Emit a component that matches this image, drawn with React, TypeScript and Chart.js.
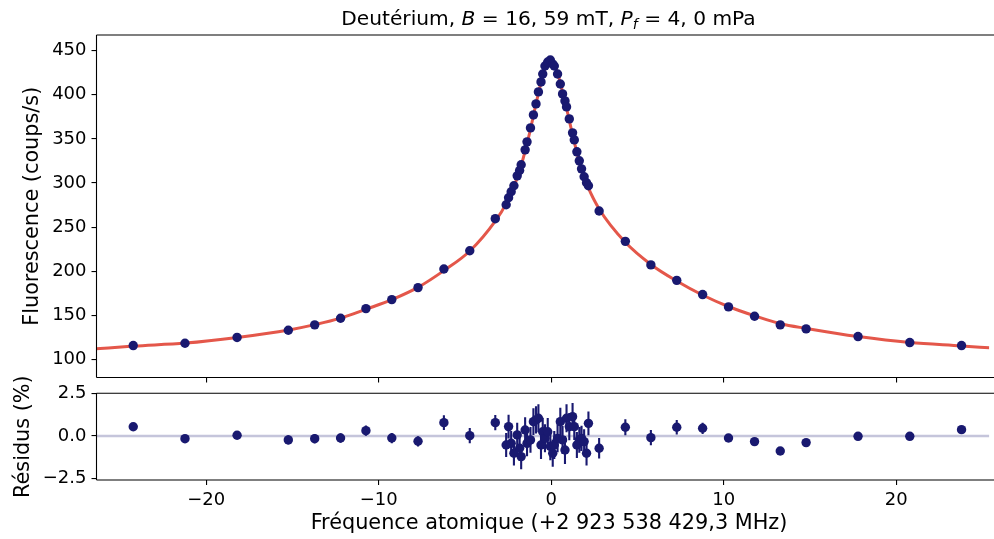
import React, { useEffect, useRef } from "react";
import { Chart, registerables } from "chart.js";

Chart.register(...registerables);

// ---------- data ----------
const freq = [
  -24.23, -21.23, -18.21, -15.24, -13.71, -12.21, -10.74, -9.24, -7.72, -6.22, -4.72,
  -3.24,
  -2.61, -2.47, -2.32, -2.16, -1.97, -1.83, -1.74, -1.51, -1.4, -1.2,
  -1.03, -0.88, -0.74, -0.59, -0.49, -0.36, -0.2, -0.05, 0.09, 0.18,
  0.37, 0.53, 0.66, 0.8, 0.89, 1.05, 1.24, 1.34, 1.49, 1.63,
  1.76, 1.91, 2.05, 2.16,
  2.78, 4.3, 5.78, 7.28, 8.78, 10.28, 11.79, 13.28, 14.78, 17.79, 20.79, 23.79,
];

const fluo = [
  115.8, 118.4, 125.0, 133.2, 139.3, 146.7, 157.7, 167.9, 181.5, 202.6, 223.3,
  259.6,
  275.4, 283.3, 290.1, 296.9, 308.2, 314.2, 320.7, 337.6, 346.7, 362.5,
  377.2, 389.7, 403.3, 414.6, 423.6, 432.7, 437.2, 439.5, 434.9, 432.7,
  423.6, 412.3, 401.0, 393.1, 386.3, 372.7, 356.9, 348.9, 335.4, 325.2,
  316.1, 307.1, 300.3, 296.9,
  268.3, 233.9, 207.2, 189.7, 173.6, 159.6, 149.0, 139.3, 134.7, 126.0, 119.2, 115.8,
];

const resid = [
  0.54, -0.16, 0.04, -0.23, -0.16, -0.12, 0.31, -0.12, -0.31, 0.78, 0.02,
  0.78,
  -0.53, 0.55, -0.43, -1.01, 0.06, -0.72, -1.21, 0.35, -0.43, -0.23,
  0.84, 0.94, 1.04, -0.53, 0.25, -0.14, 0.25, -0.62, -1.01, -0.53,
  -0.14, 0.84, -0.23, -0.82, 1.04, 0.55, 1.13, 0.55, -0.53, -0.23,
  -0.14, -0.33, -1.01, 0.74,
  -0.72, 0.51, -0.1, 0.51, 0.45, -0.12, -0.33, -0.88, -0.39, -0.02, -0.02, 0.37,
];

const residErr = [
  0.15, 0.15, 0.15, 0.27, 0.27, 0.28, 0.3, 0.3, 0.3, 0.43, 0.45,
  0.45,
  0.7, 0.7, 0.72, 0.72, 0.72, 0.74, 0.74, 0.75, 0.76, 0.76,
  0.78, 0.8, 0.82, 0.82, 0.82, 0.82, 0.8, 0.8, 0.8, 0.82,
  0.82, 0.82, 0.82, 0.82, 0.82, 0.8, 0.8, 0.78, 0.76, 0.75,
  0.74, 0.72, 0.72, 0.7,
  0.6, 0.47, 0.45, 0.43, 0.33, 0.2, 0.15, 0.12, 0.12, 0.12, 0.12, 0.12,
];

// fitted curve
const fitX = [
  -26.4, -24.2, -21.2, -18.2, -15.2, -13.7, -12.2, -10.7, -9.2, -7.7, -6.2, -4.7,
  -3.2, -2.6, -2.2, -1.8, -1.5, -1.2, -0.9, -0.6, -0.35, -0.15, 0.0, 0.15, 0.35,
  0.6, 0.9, 1.2, 1.5, 1.8, 2.1, 2.8, 4.3, 5.8, 7.3, 8.8, 10.3, 11.8, 13.3, 14.8,
  17.8, 20.8, 23.8, 25.4,
];
const fitY = [
  112.1, 115.2, 118.6, 125.0, 133.5, 139.5, 146.9, 157.2, 168.1, 182.0, 201.0, 223.3,
  258.0, 277.0, 294.0, 316.0, 337.0, 361.0, 388.0, 413.0, 430.0, 436.5, 437.5, 436.0, 426.0,
  408.0, 384.0, 358.0, 334.0, 313.0, 297.0, 270.0, 232.8, 207.4, 188.7, 172.8, 159.8, 149.5, 140.5, 135.2,
  126.0, 119.2, 115.4, 113.2,
];

const xTicks = [-20, -10, 0, 10, 20];
const yTicksTop = [100, 150, 200, 250, 300, 350, 400, 450];
const yTicksRes = [-2.5, 0, 2.5];
const xRange = [-26.36, 25.4];
const yRangeTop = [79.6, 467.8];
const yRangeRes = [-2.58, 2.5];

const titleParts = [
  { t: "Deutérium, ", it: false, sub: false },
  { t: "B", it: true, sub: false },
  { t: " = 16, 59", it: false, sub: false },
  { t: " mT, ", it: false, sub: false },
  { t: "P", it: true, sub: false },
  { t: "f", it: true, sub: true },
  { t: " = 4, 0", it: false, sub: false },
  { t: " mPa", it: false, sub: false },
];
const yLabelTop = "Fluorescence (coups/s)";
const yLabelRes = "Résidus (%)";
const xLabel = "Fréquence atomique (+2 923 538 429,3 MHz)";

// ---------- styles / layout ----------
const FAMILY = "'DejaVu Sans', sans-serif";
const TICK_SIZE = 18;
const LABEL_SIZE = 20.8;
const TITLE_SIZE = 20.2;
const NAVY = "#191970";
const FIT = "#e4574a";
const ZERO = "rgba(25,25,112,0.25)";

const W = 994;
const H = 539;
const TOP_H = 386;
const BOT_Y = 360;
const BOT_H = H - BOT_Y;
const LEFT = 96.5;
const TOP_AREA = [35, 377.5];
const BOT_AREA = [393.3, 480];

const minus = (v: number, dec: number) => {
  const s = Math.abs(v).toFixed(dec);
  return v < 0 ? "\u2212" + s : s;
};

const spinesPlugin = {
  id: "spines",
  afterDraw(chart: any) {
    const { ctx, chartArea: a } = chart;
    ctx.save();
    ctx.strokeStyle = "#000";
    ctx.lineWidth = 1.1;
    ctx.beginPath();
    ctx.moveTo(a.left, a.top);
    ctx.lineTo(chart.width, a.top);
    ctx.moveTo(a.left, a.top);
    ctx.lineTo(a.left, a.bottom);
    ctx.moveTo(a.left, a.bottom);
    ctx.lineTo(chart.width, a.bottom);
    ctx.stroke();
    ctx.restore();
  },
};

const yTitlePlugin = (text: string, cx: number) => ({
  id: "ytitle",
  afterDraw(chart: any) {
    const { ctx, chartArea: a } = chart;
    ctx.save();
    ctx.translate(cx, (a.top + a.bottom) / 2);
    ctx.rotate(-Math.PI / 2);
    ctx.font = `${LABEL_SIZE}px ${FAMILY}`;
    ctx.fillStyle = "#000";
    ctx.textAlign = "center";
    ctx.textBaseline = "middle";
    ctx.fillText(text, 0, 0);
    ctx.restore();
  },
});

const titlePlugin = {
  id: "mathtitle",
  afterDraw(chart: any) {
    const { ctx } = chart;
    ctx.save();
    ctx.fillStyle = "#000";
    ctx.textBaseline = "alphabetic";
    ctx.textAlign = "left";
    const fontFor = (p: any) =>
      `${p.it ? "italic " : ""}${p.sub ? TITLE_SIZE * 0.7 : TITLE_SIZE}px ${FAMILY}`;
    let total = 0;
    titleParts.forEach((p) => {
      ctx.font = fontFor(p);
      total += ctx.measureText(p.t).width;
    });
    let x = 548.5 - total / 2;
    const base = 24.5;
    titleParts.forEach((p) => {
      ctx.font = fontFor(p);
      ctx.fillText(p.t, x, p.sub ? base + 4 : base);
      x += ctx.measureText(p.t).width;
    });
    ctx.restore();
  },
};

const xTitlePlugin = {
  id: "xtitle",
  afterDraw(chart: any) {
    const { ctx } = chart;
    ctx.save();
    ctx.font = `${LABEL_SIZE}px ${FAMILY}`;
    ctx.fillStyle = "#000";
    ctx.textAlign = "center";
    ctx.textBaseline = "middle";
    ctx.fillText(xLabel, 549, 524 - BOT_Y);
    ctx.restore();
  },
};

const errorBarPlugin = {
  id: "errorbars",
  beforeDatasetDraw(chart: any, args: any) {
    if (args.index !== 0) return;
    const { ctx, scales } = chart;
    const x = scales.x;
    const y = scales.y;
    ctx.save();
    ctx.strokeStyle = NAVY;
    ctx.lineWidth = 2.1;
    ctx.beginPath();
    freq.forEach((f, i) => {
      const px = x.getPixelForValue(f);
      ctx.moveTo(px, y.getPixelForValue(resid[i] - residErr[i]));
      ctx.lineTo(px, y.getPixelForValue(resid[i] + residErr[i]));
    });
    ctx.stroke();
    ctx.restore();
  },
};

const zeroPad = (s: any) => {
  s.paddingTop = 0;
  s.paddingBottom = 0;
  s.paddingLeft = 0;
  s.paddingRight = 0;
};

const xScale = (showLabels: boolean, height: number) => ({
  type: "linear",
  min: xRange[0],
  max: xRange[1],
  afterBuildTicks: (s: any) => {
    s.ticks = xTicks.map((v) => ({ value: v }));
  },
  afterFit: (s: any) => {
    s.height = height;
    zeroPad(s);
  },
  ticks: {
    display: showLabels,
    autoSkip: false,
    maxRotation: 0,
    padding: 5,
    color: "#000",
    font: { family: FAMILY, size: TICK_SIZE },
    callback: (v: any) => minus(Number(v), 0),
  },
  grid: { drawOnChartArea: false, drawTicks: true, tickLength: 5, color: "#000", lineWidth: 1.1 },
  border: { display: false },
});

const yScale = (min: number, max: number, ticks: number[], dec: number) => ({
  type: "linear",
  min,
  max,
  afterBuildTicks: (s: any) => {
    s.ticks = ticks.map((v) => ({ value: v }));
  },
  afterFit: (s: any) => {
    s.width = LEFT;
    zeroPad(s);
  },
  ticks: {
    autoSkip: false,
    padding: 5,
    color: "#000",
    font: { family: FAMILY, size: TICK_SIZE },
    callback: (v: any) => minus(Number(v), dec),
  },
  grid: { drawOnChartArea: false, drawTicks: true, tickLength: 5, color: "#000", lineWidth: 1.1 },
  border: { display: false },
});

export default function App() {
  const topRef = useRef<HTMLCanvasElement>(null);
  const botRef = useRef<HTMLCanvasElement>(null);

  useEffect(() => {
    const pts = freq.map((f, i) => ({ x: f, y: fluo[i] }));
    const fit = fitX.map((f, i) => ({ x: f, y: fitY[i] }));
    const res = freq.map((f, i) => ({ x: f, y: resid[i] }));

    const top = new Chart(topRef.current as HTMLCanvasElement, {
      type: "scatter",
      data: {
        datasets: [
          {
            label: "mesures",
            data: pts,
            pointRadius: 4.7,
            pointBackgroundColor: NAVY,
            pointBorderWidth: 0,
            order: 0,
          } as any,
          {
            label: "ajustement",
            data: fit,
            showLine: true,
            borderColor: FIT,
            borderWidth: 3,
            pointRadius: 0,
            cubicInterpolationMode: "monotone",
            order: 1,
          } as any,
        ],
      },
      options: {
        animation: false,
        responsive: false,
        devicePixelRatio: 1,
        events: [],
        layout: { padding: { top: TOP_AREA[0], left: 0, right: 0, bottom: 0 } },
        plugins: { legend: { display: false }, tooltip: { enabled: false } },
        scales: {
          x: xScale(false, TOP_H - TOP_AREA[1]),
          y: yScale(yRangeTop[0], yRangeTop[1], yTicksTop, 0),
        } as any,
      },
      plugins: [spinesPlugin, titlePlugin, yTitlePlugin(yLabelTop, 32.5)],
    });

    const bot = new Chart(botRef.current as HTMLCanvasElement, {
      type: "scatter",
      data: {
        datasets: [
          {
            label: "résidus",
            data: res,
            pointRadius: 4.7,
            pointBackgroundColor: NAVY,
            pointBorderWidth: 0,
            order: 0,
          } as any,
          {
            label: "zéro",
            data: [
              { x: xRange[0], y: 0 },
              { x: xRange[1], y: 0 },
            ],
            showLine: true,
            borderColor: ZERO,
            borderWidth: 2.5,
            pointRadius: 0,
            order: 1,
          } as any,
        ],
      },
      options: {
        animation: false,
        responsive: false,
        devicePixelRatio: 1,
        events: [],
        layout: { padding: { top: BOT_AREA[0] - BOT_Y, left: 0, right: 0, bottom: 0 } },
        plugins: { legend: { display: false }, tooltip: { enabled: false } },
        scales: {
          x: xScale(true, H - BOT_AREA[1]),
          y: yScale(yRangeRes[0], yRangeRes[1], yTicksRes, 1),
        } as any,
      },
      plugins: [spinesPlugin, errorBarPlugin, xTitlePlugin, yTitlePlugin(yLabelRes, 23.5)],
    });

    return () => {
      top.destroy();
      bot.destroy();
    };
  }, []);

  return (
    <div
      style={{
        position: "absolute",
        left: 0,
        top: 0,
        width: W,
        height: H,
        background: "#fff",
        overflow: "hidden",
      }}
    >
      <canvas
        ref={topRef}
        width={W}
        height={TOP_H}
        style={{ position: "absolute", left: 0, top: 0, width: W, height: TOP_H }}
      />
      <canvas
        ref={botRef}
        width={W}
        height={BOT_H}
        style={{ position: "absolute", left: 0, top: BOT_Y, width: W, height: BOT_H }}
      />
    </div>
  );
}
